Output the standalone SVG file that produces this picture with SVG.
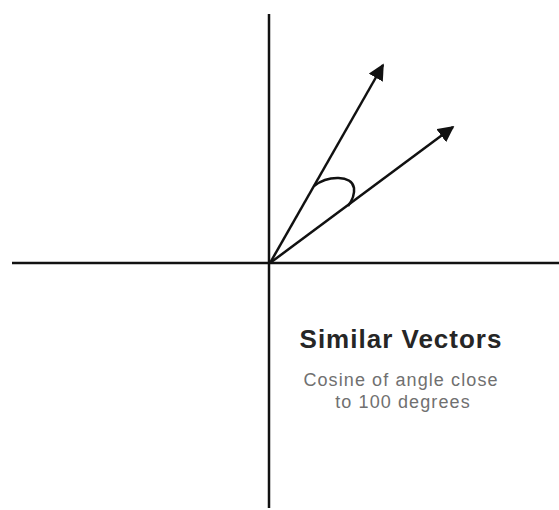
<svg xmlns="http://www.w3.org/2000/svg" width="559" height="510" viewBox="0 0 559 510">
<style>
.axis{stroke:#111;stroke-width:2.5;fill:none}
.vec{stroke:#111;stroke-width:2.5;fill:none;marker-end:url(#ah)}
.title{font-family:"Liberation Sans",Arial,sans-serif;font-weight:bold;font-size:26px;letter-spacing:1px;fill:#262626;text-anchor:middle}
.sub{font-family:"Liberation Sans",Arial,sans-serif;font-size:18px;letter-spacing:1.1px;fill:#707070;text-anchor:middle}
</style>
<defs>
<marker id="ah" viewBox="0 0 10 10" refX="9" refY="5" markerWidth="6.5" markerHeight="6.5" markerUnits="strokeWidth" orient="auto">
<path d="M0,0 L10,5 L0,10 Z" fill="#111"/>
</marker>
</defs>
<rect width="559" height="510" fill="#fff"/>
<g id="connectors">
<line class="axis" x1="269" y1="14" x2="269" y2="508"/>
<line class="axis" x1="12" y1="263" x2="559" y2="263"/>
<line id="v1" class="vec" x1="270" y1="263" x2="383" y2="65"/>
<line id="v2" class="vec" x1="270" y1="263" x2="453" y2="127"/>
<path id="angle" class="axis" stroke-width="2.2" d="M314,186 C328,175 352,175 354,188 C355,196 351,202 348,206"/>
</g>
<g id="label">
<text class="title" x="401" y="348">Similar Vectors</text>
<text class="sub" x="401" y="386">Cosine of angle close</text>
<text class="sub" x="403" y="408">to 100 degrees</text>
</g>
</svg>
